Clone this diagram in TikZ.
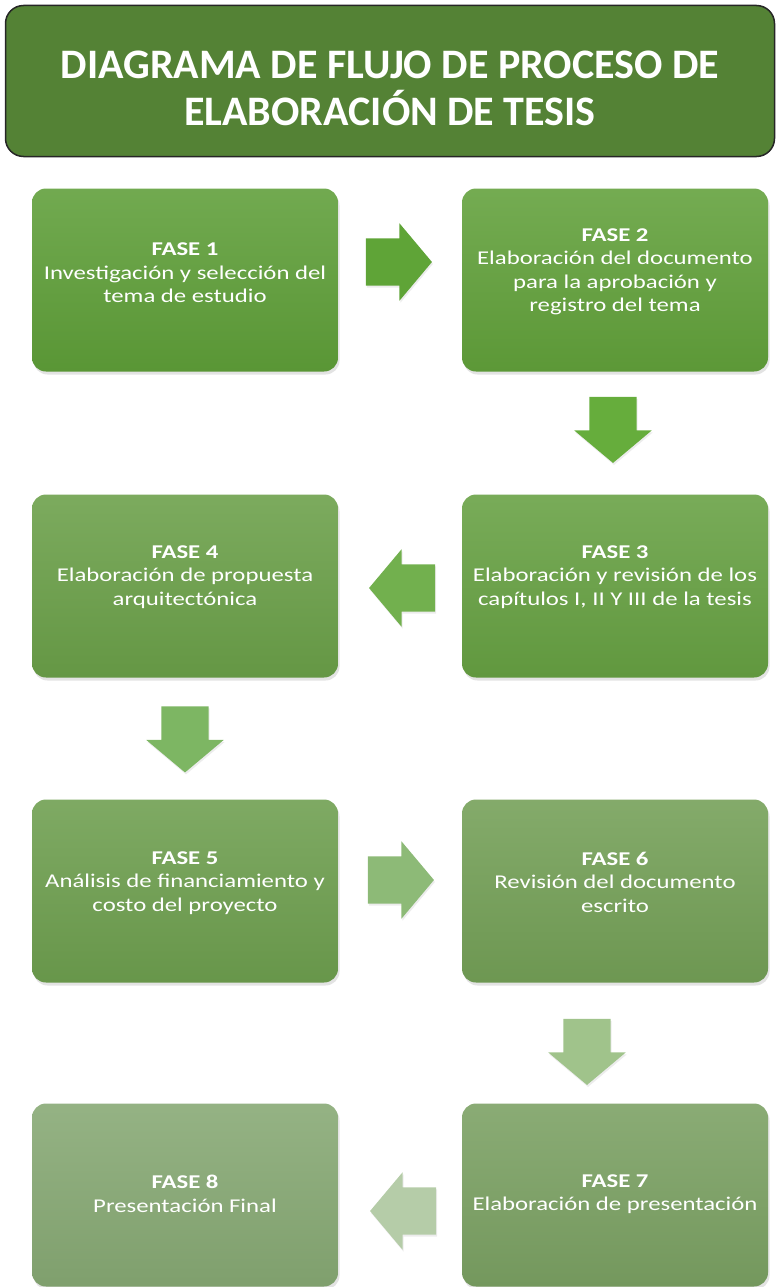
\documentclass[tikz,border=0pt]{standalone}
\usepackage{fontspec}
\setmainfont{Carlito}
\newfontfamily\fasefont[FakeStretch=1.27]{Carlito}
\usetikzlibrary{shapes.arrows,shadows,calc}

\definecolor{Ctitlegreen}{HTML}{548235}
\definecolor{Cfase1}{HTML}{5E9E38}
\definecolor{Cfase2}{HTML}{61A03A}
\definecolor{Cfase3}{HTML}{66A042}
\definecolor{Cfase4}{HTML}{6A9F48}
\definecolor{Cfase5}{HTML}{6D9E4E}
\definecolor{Cfase6}{HTML}{739F56}
\definecolor{Cfase7}{HTML}{7AA062}
\definecolor{Cfase8}{HTML}{86A873}
\definecolor{Cflecha1}{HTML}{5FA437}
\definecolor{Cflecha2}{HTML}{66AD3C}
\definecolor{Cflecha3}{HTML}{72B04E}
\definecolor{Cflecha4}{HTML}{7DB663}
\definecolor{Cflecha5}{HTML}{8DBA77}
\definecolor{Cflecha6}{HTML}{A0C38B}
\definecolor{Cflecha7}{HTML}{B5CCA8}

\tikzset{
	titlebox/.style={draw=black!85,line width=1.5pt,fill=Ctitlegreen,rounded corners=18pt,
		minimum width=769pt,minimum height=151pt},
	titletext/.style={text=white,align=center,font=\bfseries\fontsize{42}{47}\selectfont},
	fasebox/.style={rounded corners=14pt,minimum width=306pt,minimum height=183pt,
		top color=#1!88!white,bottom color=#1!95!black,
		drop shadow={opacity=0.22,shadow xshift=1.5pt,shadow yshift=-3pt}},
	fasetext/.style={text=white,align=center,font=\fasefont\fontsize{19.5}{23.5}\selectfont},
	flecha/.style={single arrow,fill=#1,inner xsep=0pt,inner ysep=23.5pt,minimum height=66pt,
		single arrow head extend=15pt,single arrow tip angle=100,
		drop shadow={opacity=0.15,shadow xshift=1pt,shadow yshift=-2pt}},
}

\begin{document}
\begin{tikzpicture}[x=1pt,y=-1pt]
		\useasboundingbox (0,0) rectangle (778,1287);
		\node[titlebox] (titulo) at (390,81) {};
		\node[titletext] (tt) at ([yshift=-7pt]titulo.center)
			{DIAGRAMA DE FLUJO DE PROCESO DE\\ELABORACIÓN DE TESIS};

		% fases
		\node[fasebox=Cfase1] (f1) at (185,280) {};
		\node[fasebox=Cfase2] (f2) at (615,280) {};
		\node[fasebox=Cfase3] (f3) at (615,586) {};
		\node[fasebox=Cfase4] (f4) at (185,586) {};
		\node[fasebox=Cfase5] (f5) at (185,891) {};
		\node[fasebox=Cfase6] (f6) at (615,891) {};
		\node[fasebox=Cfase7] (f7) at (615,1195) {};
		\node[fasebox=Cfase8] (f8) at (185,1195) {};

		\node[fasetext] (t1) at ([yshift=7pt]f1.center)
			{\textbf{FASE 1}\\Investigación y selección del\\tema de estudio};
		\node[fasetext] (t2) at ([yshift=8pt]f2.center)
			{\textbf{FASE 2}\\Elaboración del documento\\para la aprobación y\\registro del tema};
		\node[fasetext] (t3) at ([yshift=9pt]f3.center)
			{\textbf{FASE 3}\\Elaboración y revisión de los\\capítulos I, II Y III de la tesis};
		\node[fasetext] (t4) at ([yshift=9pt]f4.center)
			{\textbf{FASE 4}\\Elaboración de propuesta\\arquitectónica};
		\node[fasetext] (t5) at ([yshift=8pt]f5.center)
			{\textbf{FASE 5}\\Análisis de financiamiento y\\costo del proyecto};
		\node[fasetext] (t6) at ([yshift=9pt]f6.center)
			{\textbf{FASE 6}\\Revisión del documento\\escrito};
		\node[fasetext] (t7) at ([yshift=1pt]f7.center)
			{\textbf{FASE 7}\\Elaboración de presentación};
		\node[fasetext] (t8) at ([yshift=1pt]f8.center)
			{\textbf{FASE 8}\\Presentación Final};

		% flechas
		\node[flecha=Cflecha1] (a12) at ($(f1.east)!0.5!(f2.west)+(-11,-18)$) {};
		\node[flecha=Cflecha2,rotate=270] (a23) at ($(f2.south)!0.5!(f3.north)+(-2,-13)$) {};
		\node[flecha=Cflecha3,rotate=180] (a34) at ($(f3.west)!0.5!(f4.east)+(12,2)$) {};
		\node[flecha=Cflecha4,rotate=270] (a45) at ($(f4.south)!0.5!(f5.north)+(0,-9)$) {};
		\node[flecha=Cflecha5] (a56) at ($(f5.east)!0.5!(f6.west)+(-9,-11)$) {};
		\node[flecha=Cflecha6,rotate=270] (a67) at ($(f6.south)!0.5!(f7.north)+(-28,-1)$) {};
		\node[flecha=Cflecha7,rotate=180] (a78) at ($(f7.west)!0.5!(f8.east)+(13,16)$) {};
\end{tikzpicture}
\end{document}
